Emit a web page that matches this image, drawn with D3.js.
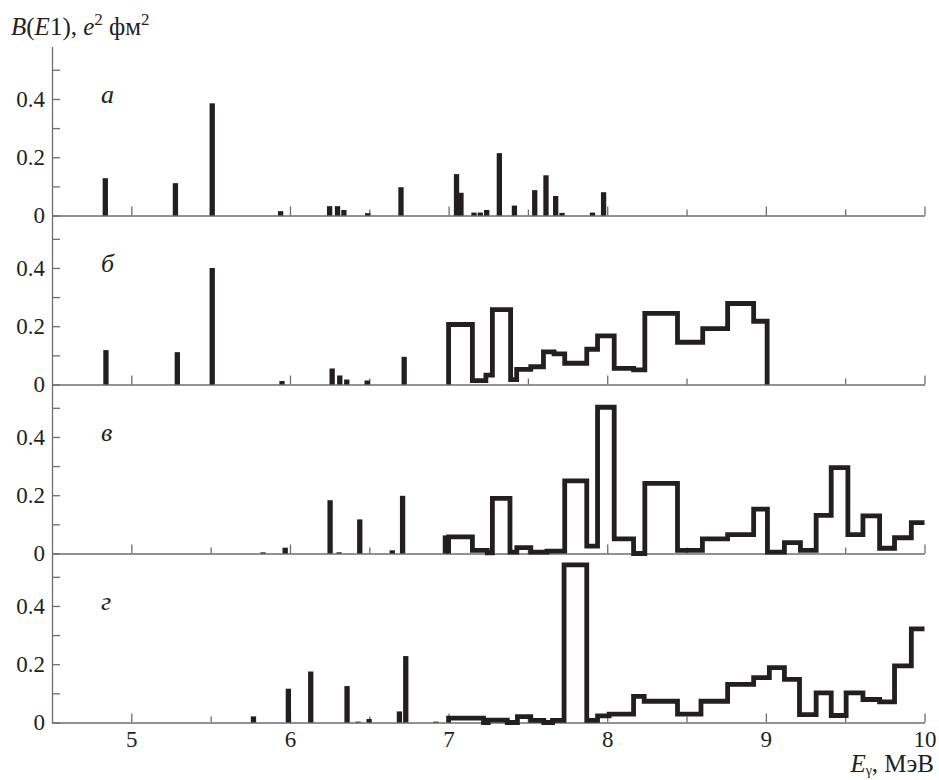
<!DOCTYPE html>
<html>
<head>
<meta charset="utf-8">
<script src="https://cdn.jsdelivr.net/npm/d3@7"></script>
<style>
  body { margin: 0; background: #fff; }
  svg { display: block; font-family: "Liberation Serif", "DejaVu Serif", serif; }
  .axis path, .axis line { stroke: #6d6e71; stroke-width: 1.3; }
  .axis text { fill: #231f20; font-size: 23px; font-family: "Liberation Serif", serif; }
  .bar { fill: #231f20; }
  .hist { fill: none; stroke: #231f20; stroke-width: 4.8; stroke-linejoin: miter; }
</style>
</head>
<body>
<script>
// panel letters
var panelNames = ['а', 'б', 'в', 'г'];

// single transitions: energy (MeV) and B(E1) value
var barsAE = [4.836, 5.278, 5.51, 5.941, 6.25, 6.30, 6.34, 6.49, 6.70, 7.05, 7.078, 7.16, 7.20, 7.24, 7.32, 7.415, 7.543, 7.614, 7.675, 7.715, 7.907, 7.977];
var barsAB = [0.128, 0.111, 0.385, 0.015, 0.032, 0.032, 0.019, 0.008, 0.097, 0.142, 0.078, 0.010, 0.010, 0.019, 0.214, 0.034, 0.087, 0.138, 0.067, 0.009, 0.010, 0.080];

var barsBE = [4.84, 5.29, 5.51, 5.95, 6.266, 6.314, 6.358, 6.487, 6.72];
var barsBB = [0.118, 0.111, 0.40, 0.012, 0.055, 0.031, 0.017, 0.014, 0.095];

var barsCE = [5.83, 5.97, 6.253, 6.31, 6.44, 6.645, 6.71, 6.98];
var barsCB = [0.004, 0.02, 0.183, 0.004, 0.117, 0.011, 0.198, 0.062];

var barsDE = [5.77, 5.99, 6.131, 6.36, 6.43, 6.499, 6.69, 6.73, 6.92];
var barsDB = [0.021, 0.116, 0.175, 0.125, 0.003, 0.012, 0.038, 0.228, 0.003];

// binned strength: bin edges and value per bin
var histAEdges = [];
var histAVals = [];

var histBEdges = [7.0, 7.15, 7.235, 7.276, 7.391, 7.429, 7.518, 7.598, 7.665, 7.732, 7.871, 7.939, 8.044, 8.166, 8.237, 8.443, 8.602, 8.759, 8.923, 9.008];
var histBVals = [0.206, 0.013, 0.032, 0.257, 0.017, 0.052, 0.061, 0.112, 0.105, 0.073, 0.121, 0.167, 0.055, 0.05, 0.244, 0.145, 0.192, 0.278, 0.217];

var histCEdges = [7.0, 7.15, 7.244, 7.276, 7.387, 7.43, 7.518, 7.62, 7.732, 7.871, 7.939, 8.044, 8.166, 8.237, 8.443, 8.60, 8.759, 8.923, 9.01, 9.117, 9.218, 9.317, 9.412, 9.517, 9.612, 9.717, 9.811, 9.917, 10.0];
var histCVals = [0.057, 0.011, 0.002, 0.189, 0.005, 0.02, 0.005, 0.008, 0.249, 0.025, 0.502, 0.05, 0.0, 0.241, 0.011, 0.05, 0.065, 0.152, 0.005, 0.037, 0.011, 0.131, 0.295, 0.065, 0.129, 0.018, 0.054, 0.106];

var histDEdges = [7.0, 7.22, 7.25, 7.37, 7.434, 7.518, 7.60, 7.655, 7.728, 7.871, 7.939, 8.012, 8.166, 8.233, 8.443, 8.591, 8.759, 8.923, 9.022, 9.117, 9.212, 9.317, 9.412, 9.506, 9.612, 9.717, 9.811, 9.917, 10.0];
var histDVals = [0.015, 0.0, 0.008, 0.0, 0.02, 0.007, 0.0, 0.007, 0.541, 0.007, 0.023, 0.029, 0.09, 0.073, 0.029, 0.073, 0.131, 0.154, 0.188, 0.148, 0.027, 0.102, 0.024, 0.102, 0.079, 0.071, 0.194, 0.321];

// axis ticks
var xTicks = [5, 5.5, 6, 6.5, 7, 7.5, 8, 8.5, 9, 9.5, 10];
var yTicks = [0, 0.1, 0.2, 0.3, 0.4, 0.5];
var yTickLabels = [0, 0.2, 0.4];

var panels = [
  { name: panelNames[0], barE: barsAE, barB: barsAB, edges: histAEdges, vals: histAVals },
  { name: panelNames[1], barE: barsBE, barB: barsBB, edges: histBEdges, vals: histBVals },
  { name: panelNames[2], barE: barsCE, barB: barsCB, edges: histCEdges, vals: histCVals },
  { name: panelNames[3], barE: barsDE, barB: barsDB, edges: histDEdges, vals: histDVals }
];

var width = 939, height = 780;
var plotLeft = 52, plotRight = 924.5, plotTop = 46.5, panelH = 169;
var barW = 5.3;

var svg = d3.select('body').append('svg')
  .attr('width', width)
  .attr('height', height);

svg.append('rect').attr('width', width).attr('height', height).attr('fill', '#fff');

var x = d3.scaleLinear().domain([4.5, 10]).range([plotLeft, plotRight]);

panels.forEach(function(p, i) {
  var y0 = plotTop + panelH * i;
  var y = d3.scaleLinear().domain([0, 0.58]).range([y0 + panelH, y0]);
  var g = svg.append('g');

  // x baseline with inward ticks
  var xa = g.append('g')
    .attr('class', 'axis')
    .attr('transform', 'translate(0,' + y(0) + ')')
    .call(d3.axisBottom(x)
      .tickValues(xTicks)
      .tickSizeInner(-9)
      .tickSizeOuter(0)
      .tickPadding(8)
      .tickFormat(function(d) { return (i == 3 && d % 1 == 0) ? d : ''; }));
  xa.selectAll('.tick line')
    .attr('y2', function(d) { return d % 1 == 0 ? -9 : -6; });

  // y axis
  g.append('g')
    .attr('class', 'axis')
    .attr('transform', 'translate(' + plotLeft + ',0)')
    .call(d3.axisLeft(y)
      .tickValues(yTicks)
      .tickSizeInner(-8)
      .tickSizeOuter(0)
      .tickPadding(7)
      .tickFormat(function(d) {
        return yTickLabels.indexOf(d) >= 0 ? String(d) : '';
      }));

  // single lines
  g.selectAll('.bar')
    .data(p.barE)
    .enter()
    .append('rect')
    .attr('class', 'bar')
    .attr('x', function(d) { return x(d) - barW / 2; })
    .attr('width', barW)
    .attr('y', function(d, k) { return y(p.barB[k]); })
    .attr('height', function(d, k) { return y(0) - y(p.barB[k]); });

  // binned histogram
  if (p.edges.length) {
    var pts = [[p.edges[0], 0]];
    p.vals.forEach(function(v, k) { pts.push([p.edges[k], v]); });
    var last = p.edges[p.edges.length - 1];
    pts.push([last, p.vals[p.vals.length - 1]]);
    if (last < x.domain()[1]) pts.push([last, 0]);

    var line = d3.line()
      .x(function(d) { return x(d[0]); })
      .y(function(d) { return y(d[1]); })
      .curve(d3.curveStepAfter);

    g.append('path')
      .attr('class', 'hist')
      .attr('d', line(pts));
  }

  // panel letter
  g.append('text')
    .attr('x', 101)
    .attr('y', y(0.4) + 4)
    .attr('font-size', 26)
    .attr('font-style', 'italic')
    .attr('fill', '#231f20')
    .text(p.name);
});

// y title
var yt = svg.append('text')
  .attr('x', 11)
  .attr('y', 35)
  .attr('font-size', 25)
  .attr('fill', '#231f20');
yt.append('tspan').attr('font-style', 'italic').text('B');
yt.append('tspan').text('(');
yt.append('tspan').attr('font-style', 'italic').text('E');
yt.append('tspan').text('1), ');
yt.append('tspan').attr('font-style', 'italic').text('e');
yt.append('tspan').attr('font-size', 17).attr('dy', -10).text('2');
yt.append('tspan').attr('dy', 10).text(' фм');
yt.append('tspan').attr('font-size', 17).attr('dy', -10).text('2');

// x title
var xt = svg.append('text')
  .attr('x', 934)
  .attr('y', 772)
  .attr('text-anchor', 'end')
  .attr('font-size', 25)
  .attr('fill', '#231f20');
xt.append('tspan').attr('font-style', 'italic').text('E');
xt.append('tspan').attr('font-size', 14).attr('dy', 3).text('γ');
xt.append('tspan').attr('dy', -3).text(', МэВ');
</script>
</body>
</html>
